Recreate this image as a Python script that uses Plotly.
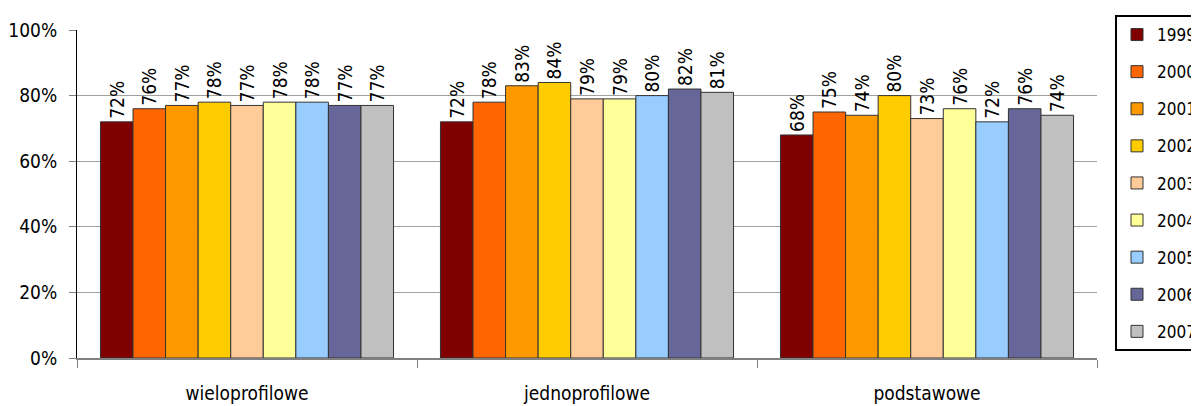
import plotly.graph_objects as go

categories = ["wieloprofilowe", "jednoprofilowe", "podstawowe"]
years = ["1999", "2000", "2001", "2002", "2003", "2004", "2005", "2006", "2007"]
values = {
    "1999": [72, 72, 68],
    "2000": [76, 78, 75],
    "2001": [77, 83, 74],
    "2002": [78, 84, 80],
    "2003": [77, 79, 73],
    "2004": [78, 79, 76],
    "2005": [78, 80, 72],
    "2006": [77, 82, 76],
    "2007": [77, 81, 74],
}
colors = ["#800000", "#FF6600", "#FF9900", "#FFCC00", "#FFCC99",
          "#FFFF99", "#99CCFF", "#666699", "#C0C0C0"]

FONT = "Liberation Sans Narrow, DejaVu Sans Condensed, Arial Narrow, Arial"
W, H = 1199, 406

fig = go.Figure()
for yr, col in zip(years, colors):
    fig.add_trace(go.Bar(
        x=categories, y=values[yr], name=yr, legendgroup=yr,
        marker=dict(color=col, line=dict(color="#333333", width=1)),
        text=[f"{v}%" for v in values[yr]], textposition="outside",
        textangle=-90, textfont=dict(size=19, color="#000000"),
        constraintext="none", cliponaxis=False,
    ))

# the page adds an 8px body margin, so figure coords are shifted by 8px
fig.update_layout(
    width=W, height=H,
    margin=dict(l=69, r=110, t=22, b=56, autoexpand=False),
    paper_bgcolor="white", plot_bgcolor="white",
    font=dict(family=FONT, size=19, color="#000000"),
    barmode="group", bargap=0.138, bargroupgap=0,
    legend=dict(xref="container", yref="container",
                x=1107 / W, y=1 - 7 / H, xanchor="left", yanchor="top",
                bordercolor="#000000", borderwidth=2, font=dict(size=17),
                itemwidth=30, tracegroupgap=12, traceorder="grouped",
                maxheight=400),
)
fig.update_yaxes(range=[0, 100], dtick=20, ticksuffix="%",
                 showgrid=True, gridcolor="#A0A0A0", gridwidth=1,
                 showline=True, linecolor="#000000", linewidth=1,
                 ticks="outside", ticklen=7, tickcolor="#808080",
                 ticklabelstandoff=8, zeroline=False, automargin=False)
fig.update_xaxes(showline=True, linecolor="#808080", linewidth=2,
                 ticks="outside", tickson="boundaries", ticklen=8,
                 tickcolor="#808080", ticklabelstandoff=17, automargin=False)

fig.write_html("out.html")
